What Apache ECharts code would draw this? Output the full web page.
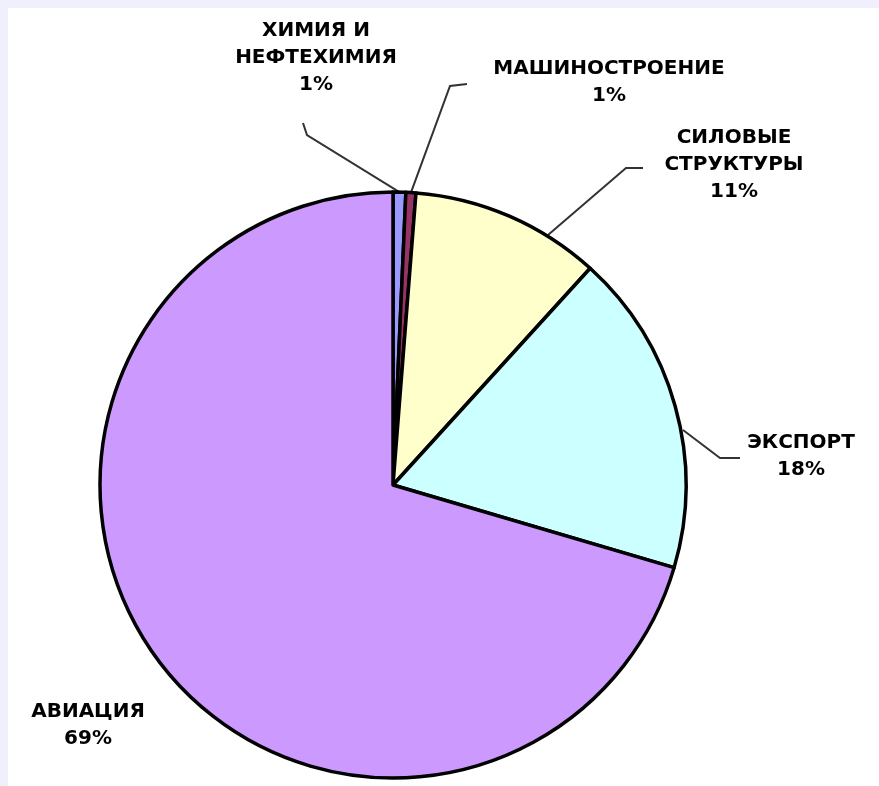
<!DOCTYPE html>
<html>
<head>
<meta charset="utf-8">
<script src="https://cdn.jsdelivr.net/npm/echarts@6/dist/echarts.min.js"></script>
<style>
  html, body { margin: 0; padding: 0; background: #f0f0fc; width: 879px; height: 786px; overflow: hidden; }
  #frame { position: absolute; left: 8px; top: 8px; width: 871px; height: 778px; background: #ffffff; }
  #main { position: absolute; left: 0; top: 0; width: 879px; height: 786px; }
</style>
</head>
<body>
<div id="frame"></div>
<div id="main"></div>
<script>
// Categories (clockwise from 12 o'clock)
const categories = ['ХИМИЯ И\nНЕФТЕХИМИЯ', 'МАШИНОСТРОЕНИЕ', 'СИЛОВЫЕ\nСТРУКТУРЫ', 'ЭКСПОРТ', 'АВИАЦИЯ'];
// Slice sizes (percent of the pie)
const values = [0.7, 0.55, 10.5, 17.8, 70.45];
// Percent labels as printed on the chart
const shareLabels = ['1%', '1%', '11%', '18%', '69%'];
const colors = ['#9999ff', '#993366', '#ffffcc', '#ccffff', '#cc99ff'];

// Label placement (text block centre) and leader points, in pixels
const labelPos = [[316, 58], [609, 82], [734, 165], [801, 456], [88, 725]];
const leaderStart = [null, null, [548, 235], [683, 430], null];
const leaderPts = [
  [[307, 135], [303, 123]],
  [[450, 86], [467, 84]],
  [[626, 168], [643, 168]],
  [[720, 458], [740, 458]],
  null
];

const chart = echarts.init(document.getElementById('main'), null, { renderer: 'canvas' });

const data = categories.map((name, i) => ({
  name: name,
  value: values[i],
  itemStyle: { color: colors[i] },
  labelLine: { show: leaderPts[i] !== null }
}));

chart.setOption({
  animation: false,
  backgroundColor: 'transparent',
  series: [{
    type: 'pie',
    center: [393, 485],
    radius: 293,
    startAngle: 90,
    clockwise: true,
    avoidLabelOverlap: false,
    minShowLabelAngle: 0,
    silent: true,
    data: data,
    itemStyle: { borderColor: '#000', borderWidth: 3.5 },
    label: {
      show: true,
      position: 'outside',
      formatter: p => p.name + '\n' + shareLabels[p.dataIndex],
      color: '#000',
      fontFamily: 'DejaVu Sans',
      fontWeight: 'bold',
      fontSize: 20,
      lineHeight: 27,
      align: 'center'
    },
    labelLine: {
      show: true,
      length: 20,
      length2: 20,
      lineStyle: { color: '#333', width: 2 }
    },
    labelLayout: function (params) {
      const i = params.dataIndex;
      const out = {
        x: labelPos[i][0],
        y: labelPos[i][1],
        align: 'center',
        verticalAlign: 'middle'
      };
      if (leaderPts[i] && params.labelLinePoints) {
        const start = leaderStart[i] || params.labelLinePoints[0];
        out.labelLinePoints = [start, leaderPts[i][0], leaderPts[i][1]];
      }
      return out;
    }
  }]
});
</script>
</body>
</html>
